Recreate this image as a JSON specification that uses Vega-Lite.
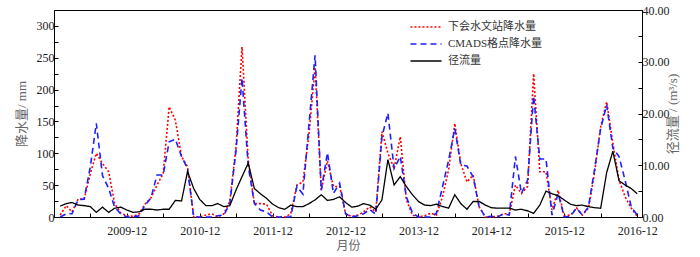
{
  "$schema": "https://vega.github.io/schema/vega-lite/v6.json",
  "width": 588,
  "height": 207,
  "autosize": {"type": "none"},
  "padding": {"left": 54, "top": 10, "right": 58, "bottom": 40},
  "background": "white",
  "config": {
    "view": {"stroke": "#000", "strokeWidth": 1},
    "font": "Liberation Serif, Noto Sans CJK SC",
    "axis": {
      "grid": false,
      "domainColor": "#000",
      "tickColor": "#000",
      "tickSize": -4,
      "labelFont": "Liberation Serif, Noto Sans CJK SC",
      "labelFontSize": 12,
      "labelColor": "#222",
      "titleFont": "Liberation Serif, Noto Sans CJK SC",
      "titleFontSize": 12,
      "titleFontWeight": "normal",
      "titleColor": "#666",
      "labelOverlap": false,
      "labelFlush": false
    }
  },
  "data": {
    "values": [
      {"date": "2009-01-01", "station": 3, "cmads": 0, "runoff": 2.1},
      {"date": "2009-02-01", "station": 18, "cmads": 5, "runoff": 2.6},
      {"date": "2009-03-01", "station": 8, "cmads": 5, "runoff": 2.8},
      {"date": "2009-04-01", "station": 28, "cmads": 27, "runoff": 2.3},
      {"date": "2009-05-01", "station": 28, "cmads": 28, "runoff": 2.2},
      {"date": "2009-06-01", "station": 68, "cmads": 79, "runoff": 2.0},
      {"date": "2009-07-01", "station": 100, "cmads": 147, "runoff": 0.9},
      {"date": "2009-08-01", "station": 84, "cmads": 65, "runoff": 1.9},
      {"date": "2009-09-01", "station": 71, "cmads": 45, "runoff": 0.9},
      {"date": "2009-10-01", "station": 21, "cmads": 15, "runoff": 1.7},
      {"date": "2009-11-01", "station": 6, "cmads": 5, "runoff": 1.9},
      {"date": "2009-12-01", "station": 2, "cmads": 0, "runoff": 1.35},
      {"date": "2010-01-01", "station": 1, "cmads": 0, "runoff": 0.9},
      {"date": "2010-02-01", "station": 5, "cmads": 2, "runoff": 1.0},
      {"date": "2010-03-01", "station": 20, "cmads": 18, "runoff": 1.5},
      {"date": "2010-04-01", "station": 30, "cmads": 30, "runoff": 1.5},
      {"date": "2010-05-01", "station": 50, "cmads": 66, "runoff": 1.35},
      {"date": "2010-06-01", "station": 68, "cmads": 66, "runoff": 1.5},
      {"date": "2010-07-01", "station": 173, "cmads": 118, "runoff": 1.5},
      {"date": "2010-08-01", "station": 152, "cmads": 122, "runoff": 3.2},
      {"date": "2010-09-01", "station": 95, "cmads": 95, "runoff": 3.1},
      {"date": "2010-10-01", "station": 79, "cmads": 76, "runoff": 8.8},
      {"date": "2010-11-01", "station": 0, "cmads": 0, "runoff": 5.5},
      {"date": "2010-12-01", "station": 0, "cmads": 0, "runoff": 3.4},
      {"date": "2011-01-01", "station": 3, "cmads": 0, "runoff": 2.2},
      {"date": "2011-02-01", "station": 5, "cmads": 0, "runoff": 2.2},
      {"date": "2011-03-01", "station": 0, "cmads": 2, "runoff": 2.6},
      {"date": "2011-04-01", "station": 5, "cmads": 3, "runoff": 2.0},
      {"date": "2011-05-01", "station": 25, "cmads": 21, "runoff": 2.2},
      {"date": "2011-06-01", "station": 110, "cmads": 105, "runoff": 5.2},
      {"date": "2011-07-01", "station": 267, "cmads": 218, "runoff": 7.8},
      {"date": "2011-08-01", "station": 90, "cmads": 80, "runoff": 10.4},
      {"date": "2011-09-01", "station": 21, "cmads": 21, "runoff": 5.5},
      {"date": "2011-10-01", "station": 21, "cmads": 11, "runoff": 4.5},
      {"date": "2011-11-01", "station": 20, "cmads": 8, "runoff": 3.6},
      {"date": "2011-12-01", "station": 2, "cmads": 0, "runoff": 2.5},
      {"date": "2012-01-01", "station": 0, "cmads": 0, "runoff": 1.8},
      {"date": "2012-02-01", "station": 0, "cmads": 0, "runoff": 1.5},
      {"date": "2012-03-01", "station": 5, "cmads": 0, "runoff": 2.3},
      {"date": "2012-04-01", "station": 50, "cmads": 48, "runoff": 2.0},
      {"date": "2012-05-01", "station": 55, "cmads": 36, "runoff": 2.0},
      {"date": "2012-06-01", "station": 131, "cmads": 147, "runoff": 2.6},
      {"date": "2012-07-01", "station": 235, "cmads": 254, "runoff": 3.3},
      {"date": "2012-08-01", "station": 42, "cmads": 42, "runoff": 4.3},
      {"date": "2012-09-01", "station": 88, "cmads": 101, "runoff": 3.2},
      {"date": "2012-10-01", "station": 48, "cmads": 37, "runoff": 3.4},
      {"date": "2012-11-01", "station": 48, "cmads": 53, "runoff": 3.9},
      {"date": "2012-12-01", "station": 5, "cmads": 5, "runoff": 2.8},
      {"date": "2013-01-01", "station": 1, "cmads": 0, "runoff": 1.9},
      {"date": "2013-02-01", "station": 3, "cmads": 2, "runoff": 2.1},
      {"date": "2013-03-01", "station": 8, "cmads": 5, "runoff": 2.6},
      {"date": "2013-04-01", "station": 16, "cmads": 12, "runoff": 2.3},
      {"date": "2013-05-01", "station": 8, "cmads": 4, "runoff": 1.5},
      {"date": "2013-06-01", "station": 134, "cmads": 126, "runoff": 3.3},
      {"date": "2013-07-01", "station": 100, "cmads": 163, "runoff": 11.1},
      {"date": "2013-08-01", "station": 76, "cmads": 76, "runoff": 6.2},
      {"date": "2013-09-01", "station": 126, "cmads": 95, "runoff": 7.8},
      {"date": "2013-10-01", "station": 27, "cmads": 32, "runoff": 5.9},
      {"date": "2013-11-01", "station": 3, "cmads": 6, "runoff": 4.3},
      {"date": "2013-12-01", "station": 0, "cmads": 0, "runoff": 3.0},
      {"date": "2014-01-01", "station": 2, "cmads": 0, "runoff": 2.3},
      {"date": "2014-02-01", "station": 6, "cmads": 0, "runoff": 2.2},
      {"date": "2014-03-01", "station": 3, "cmads": 6, "runoff": 2.5},
      {"date": "2014-04-01", "station": 32, "cmads": 48, "runoff": 2.0},
      {"date": "2014-05-01", "station": 74, "cmads": 89, "runoff": 1.7},
      {"date": "2014-06-01", "station": 147, "cmads": 139, "runoff": 4.3},
      {"date": "2014-07-01", "station": 84, "cmads": 82, "runoff": 2.6},
      {"date": "2014-08-01", "station": 55, "cmads": 80, "runoff": 1.5},
      {"date": "2014-09-01", "station": 66, "cmads": 63, "runoff": 3.0},
      {"date": "2014-10-01", "station": 16, "cmads": 16, "runoff": 3.0},
      {"date": "2014-11-01", "station": 0, "cmads": 0, "runoff": 2.3},
      {"date": "2014-12-01", "station": 0, "cmads": 1, "runoff": 1.8},
      {"date": "2015-01-01", "station": 1, "cmads": 0, "runoff": 1.7},
      {"date": "2015-02-01", "station": 5, "cmads": 5, "runoff": 1.7},
      {"date": "2015-03-01", "station": 5, "cmads": 3, "runoff": 1.7},
      {"date": "2015-04-01", "station": 50, "cmads": 95, "runoff": 1.35},
      {"date": "2015-05-01", "station": 37, "cmads": 37, "runoff": 1.5},
      {"date": "2015-06-01", "station": 48, "cmads": 58, "runoff": 1.2},
      {"date": "2015-07-01", "station": 225, "cmads": 190, "runoff": 0.7},
      {"date": "2015-08-01", "station": 71, "cmads": 91, "runoff": 2.3},
      {"date": "2015-09-01", "station": 71, "cmads": 91, "runoff": 5.0},
      {"date": "2015-10-01", "station": 11, "cmads": 3, "runoff": 4.5},
      {"date": "2015-11-01", "station": 42, "cmads": 37, "runoff": 4.1},
      {"date": "2015-12-01", "station": 2, "cmads": 0, "runoff": 3.3},
      {"date": "2016-01-01", "station": 3, "cmads": 1, "runoff": 2.5},
      {"date": "2016-02-01", "station": 14, "cmads": 14, "runoff": 2.2},
      {"date": "2016-03-01", "station": 3, "cmads": 3, "runoff": 2.3},
      {"date": "2016-04-01", "station": 14, "cmads": 16, "runoff": 2.0},
      {"date": "2016-05-01", "station": 69, "cmads": 74, "runoff": 1.8},
      {"date": "2016-06-01", "station": 142, "cmads": 139, "runoff": 1.7},
      {"date": "2016-07-01", "station": 181, "cmads": 176, "runoff": 8.6},
      {"date": "2016-08-01", "station": 116, "cmads": 108, "runoff": 12.7},
      {"date": "2016-09-01", "station": 58, "cmads": 95, "runoff": 7.0},
      {"date": "2016-10-01", "station": 32, "cmads": 58, "runoff": 6.2},
      {"date": "2016-11-01", "station": 14, "cmads": 16, "runoff": 5.5},
      {"date": "2016-12-01", "station": 1, "cmads": 3, "runoff": 4.5}
    ]
  },
  "transform": [{"fold": ["station", "cmads", "runoff"], "as": ["series", "value"]}],
  "encoding": {
    "x": {
      "field": "date", "type": "temporal",
      "scale": {"type": "utc", "domain": [1228089600000, 1482624000000]},
      "axis": {
        "title": "月份",
        "values": [1243814400000, 1259625600000, 1275350400000, 1291161600000, 1306886400000, 1322697600000, 1338508800000, 1354320000000, 1370044800000, 1385856000000, 1401580800000, 1417392000000, 1433116800000, 1448928000000, 1464739200000, 1480550400000],
        "labelExpr": "utcmonth(datum.value) == 11 ? utcFormat(datum.value, '%Y-%m') : ''",
        "labelPadding": 12,
        "titlePadding": 4
      }
    },
    "color": {
      "field": "series", "type": "nominal",
      "scale": {"domain": ["station", "cmads", "runoff"], "range": ["#ff0000", "#1f1fff", "#000000"]},
      "legend": {
        "orient": "none", "legendX": 366, "legendY": 11, "title": null,
        "labelExpr": "datum.label == 'station' ? '下会水文站降水量' : datum.label == 'cmads' ? 'CMADS格点降水量' : '径流量'",
        "symbolType": "M-3,0H3", "symbolSize": 107, "symbolStrokeWidth": 1.6,
        "labelOffset": 16, "rowPadding": 6, "labelFontSize": 11, "labelColor": "#333",
        "labelFont": "Liberation Serif, Noto Sans CJK SC"
      }
    },
    "strokeDash": {
      "field": "series", "type": "nominal",
      "scale": {"domain": ["station", "cmads", "runoff"], "range": [[2, 2], [6, 4], [1, 0]]},
      "legend": {
        "orient": "none", "legendX": 366, "legendY": 11, "title": null,
        "labelExpr": "datum.label == 'station' ? '下会水文站降水量' : datum.label == 'cmads' ? 'CMADS格点降水量' : '径流量'",
        "symbolType": "M-3,0H3", "symbolSize": 107, "symbolStrokeWidth": 1.6,
        "labelOffset": 16, "rowPadding": 6, "labelFontSize": 11, "labelColor": "#333",
        "labelFont": "Liberation Serif, Noto Sans CJK SC"
      }
    }
  },
  "layer": [
    {
      "transform": [{"filter": "datum.series !== 'runoff'"}],
      "mark": {"type": "line", "strokeWidth": 1.6},
      "encoding": {
        "y": {
          "field": "value", "type": "quantitative",
          "scale": {"domain": [0, 325], "nice": false, "zero": true},
          "axis": {
            "orient": "left",
            "title": "降水量/ mm",
            "titleFontSize": 13,
            "values": [0, 25, 50, 75, 100, 125, 150, 175, 200, 225, 250, 275, 300],
            "labelExpr": "datum.value % 50 == 0 ? datum.label : ''",
            "labelPadding": 4,
            "titlePadding": 8
          }
        }
      }
    },
    {
      "transform": [{"filter": "datum.series === 'runoff'"}],
      "mark": {"type": "line", "strokeWidth": 1.3},
      "encoding": {
        "y": {
          "field": "value", "type": "quantitative",
          "scale": {"domain": [0, 40], "nice": false},
          "axis": {
            "orient": "right",
            "title": "径流量 / (m³/s)",
            "titleFontSize": 13,
            "titleAngle": 270,
            "values": [0, 5, 10, 15, 20, 25, 30, 35, 40],
            "format": ".2f",
            "labelExpr": "datum.value % 10 == 0 ? datum.label : ''",
            "labelPadding": 4,
            "titlePadding": 10
          }
        }
      }
    }
  ],
  "resolve": {"scale": {"y": "independent"}}
}
